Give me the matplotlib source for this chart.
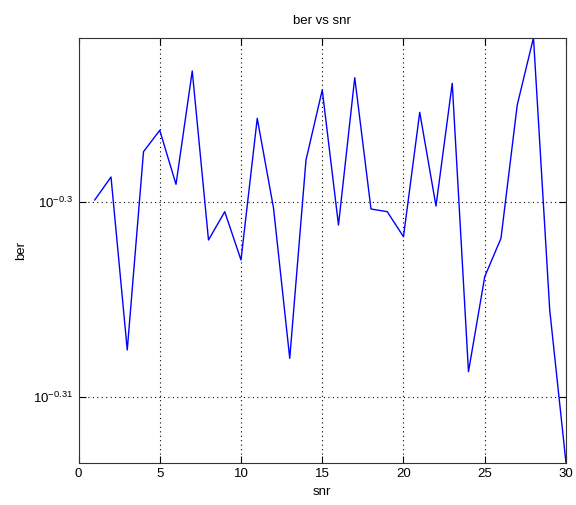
import matplotlib
matplotlib.use("Agg")
import matplotlib.pyplot as plt
import matplotlib.ticker as mticker

plt.rcParams["axes.unicode_minus"] = False

# ── Data ───────────────────────────────────────────────────────────────────
snr = list(range(1, 31))
ber = [
    0.501291, 0.502651, 0.492487, 0.504155, 0.505431, 0.502217, 0.508983,
    0.498926, 0.500596, 0.497748, 0.506147, 0.500818, 0.492004, 0.503660,
    0.507841, 0.499810, 0.508580, 0.500756, 0.500596, 0.499120, 0.506506,
    0.500932, 0.508243, 0.491226, 0.496768, 0.499025, 0.506942, 0.510987,
    0.494818, 0.485976,
]
x_ticks = [0, 5, 10, 15, 20, 25, 30]
y_exponents = [-0.31, -0.3]

FONT = "Liberation Sans"
FS = 9.5

fig = plt.figure(figsize=(5.76, 5.05), dpi=100)
fig.patch.set_facecolor("white")
ax = fig.add_axes([0.1363, 0.0838, 0.8463, 0.8415])

ax.plot(snr, ber, color="#0000ff", linewidth=1.0)

ax.set_yscale("log")
ax.set_xlim(0, 30)
ax.set_ylim(min(ber), max(ber))

ax.set_xticks(x_ticks)
ax.set_xticklabels([str(t) for t in x_ticks], fontsize=FS, family=FONT)
ax.yaxis.set_major_locator(mticker.FixedLocator([10 ** e for e in y_exponents]))
ax.yaxis.set_minor_locator(mticker.NullLocator())
ax.yaxis.set_major_formatter(mticker.FixedFormatter(
    [r"$\mathregular{10^{%g}}$" % e for e in y_exponents]))
for lbl in ax.get_yticklabels():
    lbl.set_fontsize(FS)
    lbl.set_family(FONT)

ax.tick_params(direction="in", length=5, width=0.8, colors="black",
               top=True, right=True, pad=4)
ax.grid(True, which="major", color="black", linestyle=(0, (1, 3)), linewidth=0.8)
for spine in ax.spines.values():
    spine.set_color("#333333")
    spine.set_linewidth(0.8)

ax.set_title("ber vs snr", fontsize=FS, family=FONT, pad=10)
ax.set_xlabel("snr", fontsize=FS, family=FONT, labelpad=4)
ax.set_ylabel("ber", fontsize=FS, family=FONT, labelpad=4)

fig.savefig("out.png", dpi=100, facecolor="white")
